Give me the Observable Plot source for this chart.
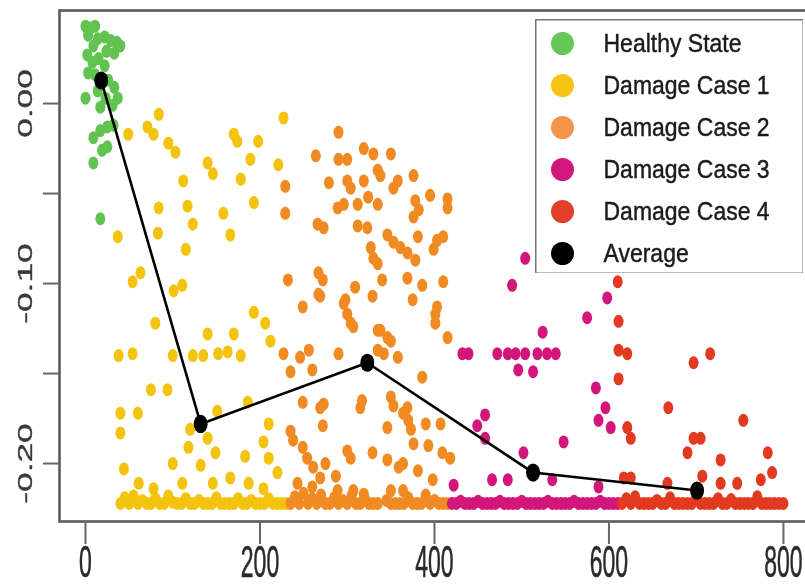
<!DOCTYPE html>
<html>
<head>
<meta charset="utf-8">
<script src="https://cdn.jsdelivr.net/npm/d3@7"></script>
<script src="https://cdn.jsdelivr.net/npm/@observablehq/plot@0.6"></script>
<style>
  html, body { margin: 0; padding: 0; background: #fff; }
  #wrap { position: relative; width: 805px; height: 588px; overflow: hidden; filter: blur(0.45px); }
  #legend { position: absolute; left: 535px; top: 19px; }
  svg { display: block; max-width: none !important; }
</style>
</head>
<body>
<div id="wrap"><div id="main"></div><div id="legend"></div></div>
<script>
// ---------------- data ----------------
const seriesNames = ["Healthy State", "Damage Case 1", "Damage Case 2", "Damage Case 3", "Damage Case 4"];
const pointColors = ["#62c450", "#f3c30d", "#f08a22", "#d3167b", "#e23a20"];
const legendLabels = ["Healthy State", "Damage Case 1", "Damage Case 2", "Damage Case 3", "Damage Case 4", "Average"];
const legendColors = ["#66c657", "#f6c412", "#f4944a", "#d0177d", "#e2402a", "#000000"];

const xTicks = [0, 200, 400, 600, 800];
const yTicks = [0, -0.05, -0.10, -0.15, -0.20];
const yLabelTicks = [0, -0.10, -0.20];
const yTickLabels = ["0.00", "-0.10", "-0.20"];

const healthy = [[0,0.043],[6,0.042],[11,0.043],[3,0.038],[14,0.036],[9,0.032],[22,0.037],[29,0.035],[36,0.034],[40,0.032],
  [24,0.029],[33,0.028],[2,0.027],[8,0.023],[15,0.025],[22,0.021],[3,0.017],[11,0.016],[26,0.013],[33,0.009],[14,0.007],
  [23,0.003],[37,0.003],[0,0.003],[31,-0.001],[17,-0.002],[9,-0.019],[17,-0.015],[25,-0.013],[32,-0.012],[25,-0.024],
  [19,-0.026],[9,-0.033],[17,-0.064]];

const damage1 = [[84,-0.006],[49,-0.017],[71,-0.013],[78,-0.017],[95,-0.022],[103,-0.027],[112,-0.043],[140,-0.033],[146,-0.039],
  [170,-0.017],[174,-0.021],[198,-0.021],[189,-0.031],[178,-0.042],[221,-0.034],[227,-0.008],[84,-0.058],[117,-0.057],[123,-0.067],
  [158,-0.061],[166,-0.073],[193,-0.055],[83,-0.072],[115,-0.081],[37,-0.074],[54,-0.099],[63,-0.094],[101,-0.104],[111,-0.101],
  [80,-0.122],[38,-0.140],[54,-0.139],[100,-0.140],[123,-0.140],[135,-0.140],[152,-0.139],[163,-0.138],[178,-0.140],[140,-0.128],
  [170,-0.128],[193,-0.116],[206,-0.122],[212,-0.132],[75,-0.159],[94,-0.159],[40,-0.172],[60,-0.172],[40,-0.183],[151,-0.171],
  [186,-0.166],[120,-0.181],[140,-0.186],[118,-0.191],[149,-0.194],[210,-0.178],[204,-0.188],[183,-0.196],[210,-0.197],[220,-0.205],
  [44,-0.203],[100,-0.200],[132,-0.201],[166,-0.208],[146,-0.211],[61,-0.211],[78,-0.214],[111,-0.211],[187,-0.211],[204,-0.214]];
const damage1Floor = [[40,-0.2222],[45,-0.219],[50,-0.2222],[55,-0.218],[60,-0.2222],[65,-0.2205],[70,-0.2222],[75,-0.2222],
  [80,-0.2195],[85,-0.2222],[90,-0.2222],[95,-0.218],[100,-0.2215],[105,-0.2222],[110,-0.2222],[115,-0.2195],[120,-0.2222],
  [125,-0.2222],[130,-0.2205],[135,-0.2222],[140,-0.2222],[145,-0.2222],[150,-0.219],[155,-0.2222],[160,-0.2222],[165,-0.2222],
  [170,-0.2222],[175,-0.2195],[180,-0.2222],[185,-0.2222],[190,-0.2205],[195,-0.2222],[200,-0.2222],[205,-0.2222],[210,-0.2195],
  [215,-0.2222],[220,-0.2222],[225,-0.2222],[230,-0.2222]];

const damage2 = [[290,-0.016],[264,-0.029],[290,-0.031],[300,-0.031],[319,-0.025],[330,-0.028],[350,-0.028],[335,-0.037],[338,-0.040],
  [376,-0.040],[358,-0.043],[353,-0.047],[319,-0.043],[300,-0.043],[279,-0.044],[229,-0.046],[304,-0.047],[395,-0.051],[415,-0.053],
  [415,-0.058],[378,-0.054],[382,-0.059],[376,-0.063],[324,-0.052],[335,-0.056],[312,-0.056],[289,-0.058],[296,-0.056],[229,-0.061],
  [266,-0.067],[273,-0.069],[312,-0.068],[323,-0.069],[346,-0.073],[353,-0.077],[361,-0.080],[369,-0.083],[378,-0.087],[381,-0.074],
  [403,-0.076],[410,-0.074],[399,-0.081],[327,-0.080],[330,-0.086],[335,-0.089],[232,-0.098],[267,-0.094],[272,-0.098],[267,-0.106],
  [249,-0.113],[309,-0.102],[340,-0.098],[329,-0.107],[369,-0.097],[386,-0.101],[375,-0.109],[410,-0.099],[403,-0.113],[415,-0.130],
  [298,-0.109],[300,-0.117],[304,-0.122],[335,-0.126],[346,-0.130],[269,-0.107],[296,-0.111],[307,-0.124],[338,-0.126],[350,-0.132],
  [342,-0.139],[358,-0.141],[227,-0.139],[235,-0.149],[246,-0.141],[256,-0.137],[260,-0.148],[290,-0.139],[335,-0.137],[350,-0.163],
  [353,-0.168],[364,-0.172],[346,-0.180],[373,-0.181],[376,-0.189],[317,-0.165],[315,-0.169],[273,-0.167],[269,-0.169],[249,-0.166],
  [272,-0.179],[235,-0.182],[238,-0.187],[249,-0.191],[254,-0.197],[261,-0.202],[275,-0.200],[300,-0.193],[304,-0.197],[329,-0.194],
  [346,-0.198],[359,-0.202],[381,-0.204],[287,-0.207],[269,-0.208],[243,-0.211],[260,-0.213],[289,-0.215],[307,-0.215],[319,-0.217],
  [350,-0.215],[386,-0.152],[369,-0.169],[370,-0.176],[390,-0.178],[407,-0.178],[393,-0.190],[409,-0.194],[418,-0.197],[364,-0.200],
  [398,-0.209],[364,-0.215],[401,-0.117],[401,-0.122]];
const damage2Floor = [[235,-0.2222],[240,-0.2185],[245,-0.2222],[250,-0.2165],[255,-0.2222],[260,-0.2195],[265,-0.2222],
  [270,-0.2175],[275,-0.2222],[280,-0.2222],[285,-0.219],[290,-0.2222],[295,-0.2205],[300,-0.2222],[305,-0.218],[310,-0.2222],
  [315,-0.2222],[320,-0.2195],[325,-0.2222],[330,-0.2222],[335,-0.2222],[345,-0.2205],[350,-0.2222],[355,-0.2222],[360,-0.2222],
  [365,-0.2222],[370,-0.219],[375,-0.2222],[380,-0.2222],[385,-0.2222],[390,-0.2175],[395,-0.2222],[400,-0.2205],[405,-0.2222],
  [410,-0.2222],[415,-0.2222]];

const damage3 = [[432,-0.139],[439,-0.139],[472,-0.139],[484,-0.139],[493,-0.139],[504,-0.139],[518,-0.139],[529,-0.139],[539,-0.139],
  [524,-0.127],[496,-0.148],[513,-0.149],[575,-0.119],[598,-0.108],[585,-0.158],[596,-0.169],[588,-0.176],[602,-0.180],[458,-0.173],
  [449,-0.179],[458,-0.186],[548,-0.188],[502,-0.194],[422,-0.212],[466,-0.209],[484,-0.209],[535,-0.209],[588,-0.213],[504,-0.086],
  [489,-0.101]];
const damage3Floor = [[420,-0.2222],[425,-0.2222],[430,-0.221],[435,-0.2222],[440,-0.2222],[445,-0.2222],[450,-0.221],[455,-0.2222],
  [460,-0.2222],[465,-0.2222],[470,-0.2222],[475,-0.221],[480,-0.2222],[485,-0.2222],[490,-0.2222],[495,-0.2222],[500,-0.221],
  [505,-0.2222],[510,-0.2222],[515,-0.2222],[520,-0.2222],[525,-0.2222],[530,-0.221],[535,-0.2222],[540,-0.2222],[545,-0.2222],
  [550,-0.2222],[555,-0.2222],[560,-0.221],[565,-0.2222],[570,-0.2222],[575,-0.2222],[580,-0.2222],[585,-0.2222],[590,-0.221],
  [595,-0.2222],[600,-0.2222],[605,-0.2222],[610,-0.2222]];

const damage4 = [[610,-0.099],[611,-0.121],[611,-0.137],[621,-0.139],[611,-0.153],[621,-0.180],[625,-0.186],[668,-0.169],[697,-0.144],
  [716,-0.139],[697,-0.186],[705,-0.186],[690,-0.194],[728,-0.198],[754,-0.176],[782,-0.194],[787,-0.205],[617,-0.208],[625,-0.208],
  [667,-0.211],[707,-0.207],[728,-0.211],[747,-0.211],[774,-0.209]];
const damage4Floor = [[615,-0.2222],[620,-0.2195],[625,-0.2222],[630,-0.2185],[635,-0.2222],[640,-0.2222],[645,-0.2222],
  [650,-0.2222],[655,-0.2205],[660,-0.2222],[665,-0.2222],[670,-0.219],[675,-0.2222],[680,-0.2222],[685,-0.2222],[690,-0.2222],
  [695,-0.2222],[700,-0.2185],[705,-0.2222],[710,-0.2222],[715,-0.2222],[720,-0.2222],[725,-0.2195],[730,-0.2222],[735,-0.2222],
  [740,-0.22],[745,-0.2222],[750,-0.2222],[755,-0.2222],[760,-0.2222],[765,-0.2222],[770,-0.2185],[775,-0.2222],[780,-0.2222],
  [785,-0.2222],[790,-0.2222],[795,-0.2222],[800,-0.2222]];

const averageX = [18, 132, 323, 513, 701];
const averageY = [0.0128, -0.178, -0.144, -0.205, -0.215];

// ---------------- build table ----------------
const groups = [[healthy, []], [damage1, damage1Floor], [damage2, damage2Floor], [damage3, damage3Floor], [damage4, damage4Floor]];
const rows = [];
groups.forEach(([pts, floor], i) => {
  for (const [x, y] of [...pts, ...floor]) rows.push({x, y, series: seriesNames[i]});
});
const avg = averageX.map((x, i) => ({x, y: averageY[i]}));

// ---------------- main chart (right edge of the box runs past the visible area, as in the reference) ----------------
const chart = Plot.plot({
  width: 814,
  height: 588,
  marginLeft: 59,
  marginRight: 4,
  marginTop: 10,
  marginBottom: 67,
  x: {domain: [-29.8, 831]},
  y: {domain: [-0.2322, 0.0517]},
  color: {domain: seriesNames, range: pointColors},
  style: {fontFamily: "Liberation Sans, Arial, sans-serif", background: "#fff", overflow: "visible", maxWidth: "none"},
  marks: [
    Plot.dot(rows, {x: "x", y: "y", fill: "series", r: 5}),
    Plot.line(avg, {x: "x", y: "y", stroke: "#000", strokeWidth: 2.6}),
    Plot.dot(avg, {x: "x", y: "y", fill: "#000", r: 7}),
    Plot.frame({stroke: "#5a5a5a", strokeWidth: 2.6}),
    Plot.axisX(xTicks, {anchor: "bottom", tickSize: 23, tickFormat: () => "", stroke: "#666", strokeWidth: 2, label: null}),
    Plot.axisY(yTicks, {anchor: "left", tickSize: 16, tickFormat: () => "", stroke: "#666", strokeWidth: 2, label: null}),
    Plot.text(xTicks, {x: d => d, frameAnchor: "bottom", dy: 41, text: d => String(d), lineAnchor: "middle",
      textAnchor: "middle", fontSize: 23, fill: "#2a2a2a", stroke: "#2a2a2a", strokeWidth: 0.3}),
    Plot.text(yLabelTicks, {y: d => d, frameAnchor: "left", dx: -34, rotate: -90, text: (d, i) => yTickLabels[i],
      lineAnchor: "middle", textAnchor: "middle", fontSize: 21, fill: "#3a3a3a", stroke: "#3a3a3a", strokeWidth: 0.4})
  ]
});
document.getElementById("main").appendChild(chart);

// ---------------- legend ----------------
const legend = Plot.plot({
  width: 268,
  height: 254,
  margin: 0,
  x: {domain: [0, 1], axis: null},
  y: {type: "point", domain: legendLabels, range: [23, 234], padding: 0, axis: null},
  color: {domain: legendLabels, range: legendColors},
  style: {fontFamily: "Liberation Sans, Arial, sans-serif", background: "#fff", maxWidth: "none"},
  marks: [
    Plot.frame({stroke: "#777", strokeWidth: 2}),
    Plot.dot(legendLabels, {y: d => d, frameAnchor: "left", dx: 27, r: 11.5, fill: d => d}),
    Plot.text(legendLabels, {y: d => d, frameAnchor: "left", dx: 68, text: d => d, textAnchor: "start",
      lineAnchor: "middle", fontSize: 23, fill: "#1a1a1a", stroke: "#1a1a1a", strokeWidth: 0.4})
  ]
});
document.getElementById("legend").appendChild(legend);

// ---------------- rendering touches: stretched glyphs like the reference ----------------
const ns = "http://www.w3.org/2000/svg";
function stretch(svg, el, sx, sy) {
  const r = el.getBoundingClientRect();
  const parent = el.parentNode;
  const inv = parent.getScreenCTM().inverse();
  const p = svg.createSVGPoint();
  p.x = r.left + r.width / 2; p.y = r.top + r.height / 2;
  const c = p.matrixTransform(inv);
  const g = document.createElementNS(ns, "g");
  g.setAttribute("transform", `translate(${c.x},${c.y}) scale(${sx},${sy}) translate(${-c.x},${-c.y})`);
  parent.insertBefore(g, el);
  g.appendChild(el);
}
chart.querySelectorAll("text").forEach(t => {
  const s = t.textContent.trim();
  if (!s) return;
  if (/^\d+$/.test(s)) stretch(chart, t, 1, 1.95);
  else if (s.includes(".")) stretch(chart, t, 1, 1.68);
});
legend.querySelectorAll("text").forEach(t => stretch(legend, t, 1, 1.12));
chart.querySelectorAll("circle").forEach(c => {
  const e = document.createElementNS(ns, "ellipse");
  for (const a of Array.from(c.attributes)) if (a.name !== "r") e.setAttribute(a.name, a.value);
  const r = +c.getAttribute("r");
  e.setAttribute("rx", r);
  e.setAttribute("ry", r * 1.3);
  c.replaceWith(e);
});
</script>
</body>
</html>
